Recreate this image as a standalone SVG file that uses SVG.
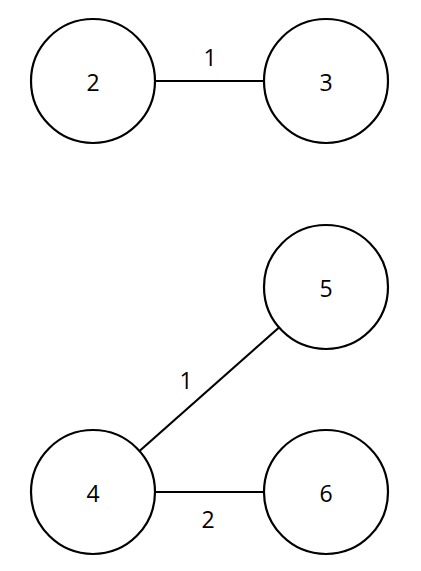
<svg xmlns="http://www.w3.org/2000/svg" width="421" height="571" viewBox="0 0 421 571">
<style>
.n circle{fill:#fff;stroke:#000;stroke-width:2.2}
text{font-family:"Open Sans","Liberation Sans",sans-serif;font-size:23px;fill:#000;text-anchor:middle;dominant-baseline:central}
.e line{stroke:#000;stroke-width:2.2}
</style>
<rect width="421" height="571" fill="#fff"/>
<g class="e" id="connectors">
<line x1="155" y1="81" x2="264" y2="81"/>
<line x1="139.5" y1="451" x2="279" y2="327.5"/>
<line x1="155" y1="492" x2="264" y2="492"/>
<text x="210" y="57">1</text>
<text x="186" y="380">1</text>
<text x="208" y="519">2</text>
</g>
<g class="n" id="n2"><circle cx="93" cy="81" r="62"/><text x="93" y="82">2</text></g>
<g class="n" id="n3"><circle cx="326" cy="81" r="62"/><text x="326" y="82">3</text></g>
<g class="n" id="n5"><circle cx="326" cy="287" r="62"/><text x="326" y="288">5</text></g>
<g class="n" id="n4"><circle cx="93" cy="492" r="62"/><text x="93" y="493">4</text></g>
<g class="n" id="n6"><circle cx="326" cy="492" r="62"/><text x="326" y="493">6</text></g>
</svg>
